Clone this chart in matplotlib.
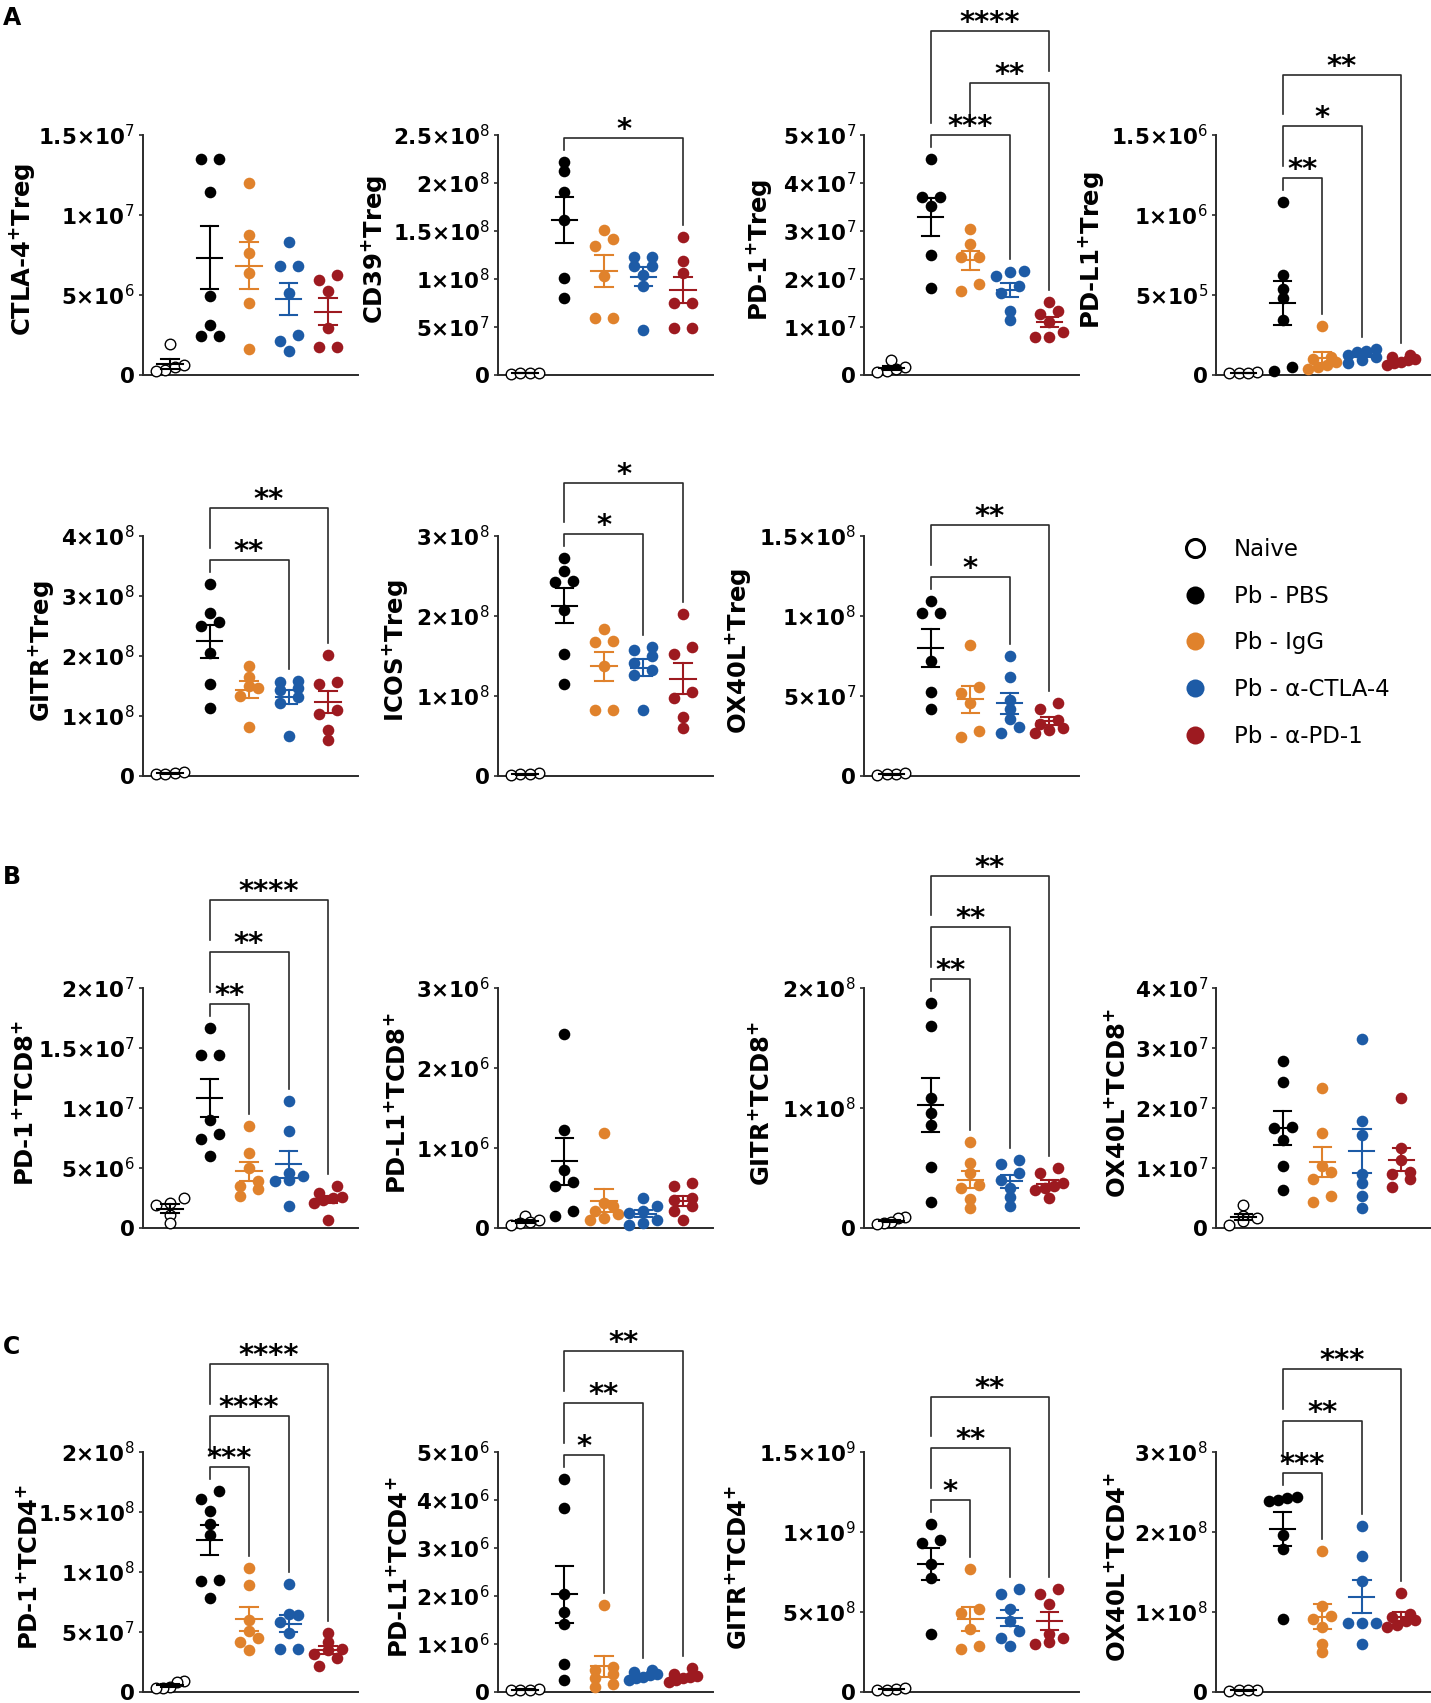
import numpy as np
import matplotlib
matplotlib.use('Agg')
from matplotlib import pyplot as plt
from matplotlib.lines import Line2D

plt.rcParams['font.family'] = ['DejaVu Sans']
plt.rcParams['mathtext.fontset'] = 'dejavusans'

# groups (same order in every panel)
groups = ['Naive', 'Pb - PBS', 'Pb - IgG', 'Pb - α-CTLA-4', 'Pb - α-PD-1']
face = ['white', '#000000', '#e0822c', '#1d5ba6', '#9d1a20']
edge = ['#000000', '#000000', '#e0822c', '#1d5ba6', '#9d1a20']

# ---- A : Treg ----
ctla4_treg = [[1.9e6, 0.3e6, 0.45e6, 0.2e6, 0.6e6],
              [13.5e6, 13.5e6, 11.4e6, 4.9e6, 3.1e6, 2.4e6, 2.4e6],
              [12.0e6, 8.75e6, 7.6e6, 6.35e6, 4.5e6, 1.6e6],
              [8.3e6, 6.8e6, 6.8e6, 5.1e6, 2.5e6, 2.1e6, 1.5e6],
              [6.2e6, 5.9e6, 5.2e6, 2.9e6, 1.7e6, 1.7e6]]
cd39_treg = [[2e6, 1e6, 2e6, 1.5e6],
             [22.1e7, 21.2e7, 19.0e7, 16.1e7, 10.1e7, 8.0e7],
             [15.1e7, 14.1e7, 13.4e7, 10.3e7, 5.9e7, 5.9e7],
             [12.3e7, 12.3e7, 11.3e7, 11.3e7, 10.4e7, 9.2e7, 4.7e7],
             [14.3e7, 11.8e7, 10.6e7, 7.5e7, 7.5e7, 4.9e7, 4.9e7]]
pd1_treg = [[3.0e6, 1.5e6, 0.8e6, 0.5e6, 1.2e6],
            [4.5e7, 3.69e7, 3.69e7, 3.51e7, 2.49e7, 1.80e7],
            [3.03e7, 2.72e7, 2.44e7, 2.44e7, 1.89e7, 1.75e7],
            [2.15e7, 2.13e7, 2.05e7, 1.85e7, 1.7e7, 1.33e7, 1.13e7],
            [1.51e7, 1.33e7, 1.27e7, 1.09e7, 0.88e7, 0.78e7, 0.78e7]]
pdl1_treg = [[1.5e4, 1e4, 0.8e4, 1.2e4],
             [10.8e5, 6.2e5, 5.35e5, 4.8e5, 3.4e5, 0.48e5, 0.2e5],
             [3.07e5, 1.1e5, 1.0e5, 0.8e5, 0.6e5, 0.37e5, 0.48e5],
             [1.62e5, 1.5e5, 1.1e5, 0.9e5, 0.7e5, 1.4e5, 1.2e5],
             [1.1e5, 0.9e5, 0.7e5, 0.8e5, 0.6e5, 1.0e5, 1.2e5]]
gitr_treg = [[5e6, 3e6, 6e6, 4e6],
             [3.2e8, 2.72e8, 2.56e8, 2.5e8, 2.05e8, 1.53e8, 1.14e8],
             [1.83e8, 1.65e8, 1.5e8, 1.47e8, 1.34e8, 0.82e8],
             [1.59e8, 1.57e8, 1.46e8, 1.43e8, 1.32e8, 1.21e8, 0.66e8],
             [2.01e8, 1.57e8, 1.54e8, 1.10e8, 1.04e8, 0.76e8, 0.60e8]]
icos_treg = [[4e6, 2e6, 3e6, 1e6],
             [2.72e8, 2.56e8, 2.44e8, 2.42e8, 2.07e8, 1.53e8, 1.15e8],
             [1.84e8, 1.69e8, 1.67e8, 1.38e8, 0.82e8, 0.82e8],
             [1.61e8, 1.57e8, 1.5e8, 1.41e8, 1.32e8, 1.26e8, 0.82e8],
             [2.03e8, 1.61e8, 1.53e8, 1.05e8, 0.97e8, 0.74e8, 0.60e8]]
ox40l_treg = [[1.5e6, 1e6, 2e6, 0.5e6],
              [10.95e7, 10.2e7, 10.2e7, 7.2e7, 5.25e7, 4.2e7],
              [8.2e7, 5.56e7, 5.19e7, 4.56e7, 2.82e7, 2.45e7],
              [7.47e7, 6.18e7, 4.73e7, 4.2e7, 3.59e7, 3.07e7, 2.66e7],
              [4.56e7, 4.2e7, 3.49e7, 3.28e7, 2.86e7, 2.66e7, 3.0e7]]

# ---- B : CD8 ----
pd1_cd8 = [[2.5e6, 2.1e6, 1.9e6, 1.1e6, 0.42e6],
           [16.7e6, 14.4e6, 14.4e6, 9.0e6, 7.8e6, 7.4e6, 6.0e6],
           [8.5e6, 6.25e6, 5.0e6, 3.9e6, 3.5e6, 3.25e6, 2.7e6],
           [10.6e6, 8.06e6, 4.58e6, 4.3e6, 4.0e6, 3.9e6, 1.8e6],
           [3.5e6, 2.9e6, 2.6e6, 2.5e6, 2.36e6, 2.1e6, 0.7e6]]
pdl1_cd8 = [[1.5e5, 1.0e5, 0.6e5, 0.4e5, 0.8e5],
            [24.2e5, 12.3e5, 7.3e5, 5.8e5, 5.2e5, 2.1e5, 1.46e5],
            [11.9e5, 3.1e5, 2.7e5, 2.1e5, 1.7e5, 1.25e5, 1.04e5],
            [3.75e5, 2.7e5, 2.1e5, 1.9e5, 1.04e5, 0.63e5, 0.42e5],
            [5.6e5, 5.2e5, 3.75e5, 3.5e5, 2.7e5, 2.1e5, 1.04e5]]
gitr_cd8 = [[0.9e7, 0.8e7, 0.5e7, 0.4e7, 0.3e7],
            [18.75e7, 16.8e7, 10.8e7, 9.6e7, 8.6e7, 5.1e7, 2.2e7],
            [7.2e7, 5.4e7, 4.6e7, 3.6e7, 3.3e7, 2.4e7, 1.67e7],
            [5.7e7, 5.3e7, 4.6e7, 4.0e7, 3.3e7, 2.6e7, 1.8e7],
            [5.0e7, 4.6e7, 3.75e7, 3.5e7, 3.3e7, 3.2e7, 2.5e7]]
ox40l_cd8 = [[3.9e6, 2.0e6, 1.7e6, 1.1e6, 0.5e6],
             [27.8e6, 24.4e6, 16.8e6, 16.7e6, 14.7e6, 10.3e6, 6.4e6],
             [23.4e6, 15.8e6, 10.3e6, 9.4e6, 8.1e6, 5.3e6, 4.4e6],
             [31.5e6, 17.8e6, 15.5e6, 9.0e6, 7.5e6, 5.3e6, 3.3e6],
             [21.7e6, 13.3e6, 11.4e6, 9.4e6, 9.0e6, 8.1e6, 6.9e6]]

# ---- C : CD4 ----
pd1_cd4 = [[0.9e7, 0.8e7, 0.4e7, 0.35e7, 0.3e7],
           [16.7e7, 16.1e7, 15.1e7, 14.0e7, 13.1e7, 9.3e7, 9.2e7, 7.8e7],
           [10.3e7, 8.9e7, 6.0e7, 5.1e7, 4.5e7, 4.2e7, 3.5e7],
           [9.0e7, 6.5e7, 6.4e7, 5.8e7, 4.9e7, 3.6e7, 3.6e7],
           [4.9e7, 4.2e7, 3.6e7, 3.5e7, 3.2e7, 2.8e7, 2.2e7]]
pdl1_cd4 = [[0.6e5, 0.4e5, 0.5e5, 0.3e5],
            [44.4e5, 38.4e5, 20.3e5, 16.7e5, 14.2e5, 5.9e5, 2.4e5],
            [18.1e5, 5.2e5, 4.5e5, 3.8e5, 2.8e5, 1.7e5, 1.0e5],
            [4.5e5, 4.2e5, 3.8e5, 3.5e5, 2.8e5, 2.4e5, 3.2e5],
            [4.9e5, 3.8e5, 3.1e5, 2.8e5, 2.1e5, 2.4e5, 3.3e5]]
gitr_cd4 = [[2e7, 1.5e7, 1e7, 2.5e7],
            [10.5e8, 9.5e8, 9.3e8, 8.0e8, 7.1e8, 3.6e8],
            [7.65e8, 5.2e8, 4.9e8, 3.9e8, 2.9e8, 2.7e8],
            [6.4e8, 6.1e8, 5.2e8, 4.45e8, 3.8e8, 3.4e8, 2.9e8],
            [6.4e8, 6.1e8, 5.5e8, 3.6e8, 3.4e8, 3.1e8, 3.0e8]]
ox40l_cd4 = [[3e6, 2e6, 1e6, 2.5e6],
             [24.4e7, 24.2e7, 24.0e7, 23.8e7, 19.6e7, 17.8e7, 9.1e7],
             [17.6e7, 10.7e7, 9.5e7, 9.1e7, 8.1e7, 6.0e7, 4.96e7],
             [20.7e7, 17.0e7, 13.9e7, 8.55e7, 8.55e7, 8.55e7, 6.0e7],
             [12.4e7, 9.7e7, 9.3e7, 8.9e7, 8.3e7, 8.1e7, 9.0e7]]

# y-axis top and tick step per panel
y_tops = [1.5e7, 2.5e8, 5e7, 1.5e6, 4e8, 3e8, 1.5e8,
          2e7, 3e6, 2e8, 4e7, 2e8, 5e6, 1.5e9, 3e8]
y_steps = [5e6, 5e7, 1e7, 5e5, 1e8, 1e8, 5e7,
           5e6, 1e6, 1e8, 1e7, 5e7, 1e6, 5e8, 1e8]

# significance: (group i, group j, stars)
sig = [[],
       [(1, 4, '*')],
       [(1, 3, '***'), (2, 4, '**'), (1, 4, '****')],
       [(1, 2, '**'), (1, 3, '*'), (1, 4, '**')],
       [(1, 3, '**'), (1, 4, '**')],
       [(1, 3, '*'), (1, 4, '*')],
       [(1, 3, '*'), (1, 4, '**')],
       [(1, 2, '**'), (1, 3, '**'), (1, 4, '****')],
       [],
       [(1, 2, '**'), (1, 3, '**'), (1, 4, '**')],
       [],
       [(1, 2, '***'), (1, 3, '****'), (1, 4, '****')],
       [(1, 2, '*'), (1, 3, '**'), (1, 4, '**')],
       [(1, 2, '*'), (1, 3, '**'), (1, 4, '**')],
       [(1, 2, '***'), (1, 3, '**'), (1, 4, '***')]]

panels = [ctla4_treg, cd39_treg, pd1_treg, pdl1_treg, gitr_treg, icos_treg, ox40l_treg,
          pd1_cd8, pdl1_cd8, gitr_cd8, ox40l_cd8, pd1_cd4, pdl1_cd4, gitr_cd4, ox40l_cd4]
P = r'$^{\mathbf{+}}$'
ylabels = ['CTLA-4' + P + 'Treg', 'CD39' + P + 'Treg', 'PD-1' + P + 'Treg', 'PD-L1' + P + 'Treg',
           'GITR' + P + 'Treg', 'ICOS' + P + 'Treg', 'OX40L' + P + 'Treg',
           'PD-1' + P + 'TCD8' + P, 'PD-L1' + P + 'TCD8' + P, 'GITR' + P + 'TCD8' + P, 'OX40L' + P + 'TCD8' + P,
           'PD-1' + P + 'TCD4' + P, 'PD-L1' + P + 'TCD4' + P, 'GITR' + P + 'TCD4' + P, 'OX40L' + P + 'TCD4' + P]

# layout (figure fractions)
col_left = [0.100, 0.348, 0.604, 0.850]
row_bottom = [0.780, 0.5443, 0.2789, 0.0065]
ax_w, ax_h = 0.150, 0.141
cells = [(0, 0), (0, 1), (0, 2), (0, 3), (1, 0), (1, 1), (1, 2),
         (2, 0), (2, 1), (2, 2), (2, 3), (3, 0), (3, 1), (3, 2), (3, 3)]
label_x = [-0.495, -0.51, -0.42, -0.515, -0.407, -0.41, -0.52,
           -0.49, -0.41, -0.42, -0.40, -0.47, -0.40, -0.53, -0.40]


def sci(v):
    if v == 0:
        return r'$\mathbf{0}$'
    e = int(np.floor(np.log10(v) + 1e-9))
    m = v / 10 ** e
    return r'$\mathbf{%s{\times}10}^{%d}$' % (f'{m:g}', e)


def swarm(ax, xc, vals, row_h=8.0, sp=18.0, max_w=28.0):
    # points at similar height share a row and are spread side by side
    tr = ax.transData
    ypix = tr.transform(np.column_stack([np.full(len(vals), xc), vals]))[:, 1]
    xunit = tr.transform((1, 0))[0] - tr.transform((0, 0))[0]
    order = np.argsort(ypix)
    rows, cur = [], [order[0]]
    for i in order[1:]:
        if ypix[i] - ypix[cur[0]] > row_h:
            rows.append(cur)
            cur = [i]
        else:
            cur.append(i)
    rows.append(cur)
    xs = np.full(len(vals), float(xc))
    for row in rows:
        n = len(row)
        if n == 1:
            continue
        step = min(sp, max_w / (n - 1))
        for k, i in enumerate(row):
            xs[i] = xc + (k - (n - 1) / 2) * step / xunit
    return xs


fig = plt.figure(figsize=(14.31, 17.03), dpi=100)

for k, data in enumerate(panels):
    r, c = cells[k]
    ax = fig.add_axes([col_left[c], row_bottom[r], ax_w, ax_h])
    top = y_tops[k]
    ax.set_xlim(-0.68, 4.75)
    ax.set_ylim(0, top)
    for s in ['top', 'right']:
        ax.spines[s].set_visible(False)
    for s in ['left', 'bottom']:
        ax.spines[s].set_linewidth(1.4)
        ax.spines[s].set_color('#2b2b2b')
    ax.set_xticks([])
    ticks = np.arange(0, top + y_steps[k] * 0.01, y_steps[k])
    ax.set_yticks(ticks)
    ax.set_yticklabels([sci(t) for t in ticks], fontsize=15.5)
    ax.tick_params(axis='y', length=3, width=1.2, pad=3, color='#2b2b2b')
    ax.set_ylabel(ylabels[k], fontsize=17.5, fontweight='bold')
    ax.yaxis.set_label_coords(label_x[k], 0.52)

    for g, vals in enumerate(data):
        vals = np.asarray(vals)
        xs = swarm(ax, g, vals)
        if g == 0:
            ax.scatter(xs, vals, s=58, facecolor='white', edgecolor='black',
                       linewidth=1.0, zorder=3, clip_on=False)
        else:
            ax.scatter(xs, vals, s=70, color=face[g], linewidth=0, zorder=3, clip_on=False)
        m = vals.mean()
        se = vals.std(ddof=1) / np.sqrt(len(vals))
        lc = edge[g]
        ax.plot([g - 0.32, g + 0.32], [m, m], color=lc, lw=1.5, zorder=4, clip_on=False)
        ax.plot([g, g], [m - se, m + se], color=lc, lw=1.5, zorder=4, clip_on=False)
        for yy in (m - se, m + se):
            ax.plot([g - 0.22, g + 0.22], [yy, yy], color=lc, lw=1.5, zorder=4, clip_on=False)

    # significance brackets stacked above data
    levels = []
    for n, (i, j, stars) in enumerate(sig[k]):
        base = max(max(data[g]) for g in range(i, j + 1)) + 0.10 * top
        lev = base if n == 0 else max(base, levels[-1] + 0.215 * top)
        ends = []
        for g in (i, j):
            obst = max(data[g])
            for (ii, jj, _), lv in zip(sig[k][:n], levels):
                if ii <= g <= jj:
                    obst = max(obst, lv)
            ends.append(min(obst + 0.05 * top, lev - 0.03 * top))
        levels.append(lev)
        ax.plot([i, i, j, j], [ends[0], lev, lev, ends[1]], color='#2b2b2b',
                lw=1.2, clip_on=False, zorder=2)
        ax.text((i + j) / 2, lev, stars, ha='center', va='baseline',
                fontsize=21, fontweight='bold', clip_on=False)

# legend
handles = []
for g in range(5):
    handles.append(Line2D([], [], marker='o', linestyle='none', markersize=13,
                          markerfacecolor=face[g], markeredgecolor=edge[g],
                          markeredgewidth=2.2 if g == 0 else 0))
fig.legend(handles, groups, loc='upper left', bbox_to_anchor=(0.827, 0.684),
           frameon=False, fontsize=16.5, handlelength=1.0, handletextpad=1.2,
           labelspacing=1.03, borderpad=0, borderaxespad=0)

for letter, yy in [('A', 1 - 6 / 1703), ('B', 1 - 865 / 1703), ('C', 1 - 1335 / 1703)]:
    fig.text(0.002, yy, letter, fontsize=17, fontweight='bold', va='top', ha='left')

fig.savefig('out.png', dpi=100)
